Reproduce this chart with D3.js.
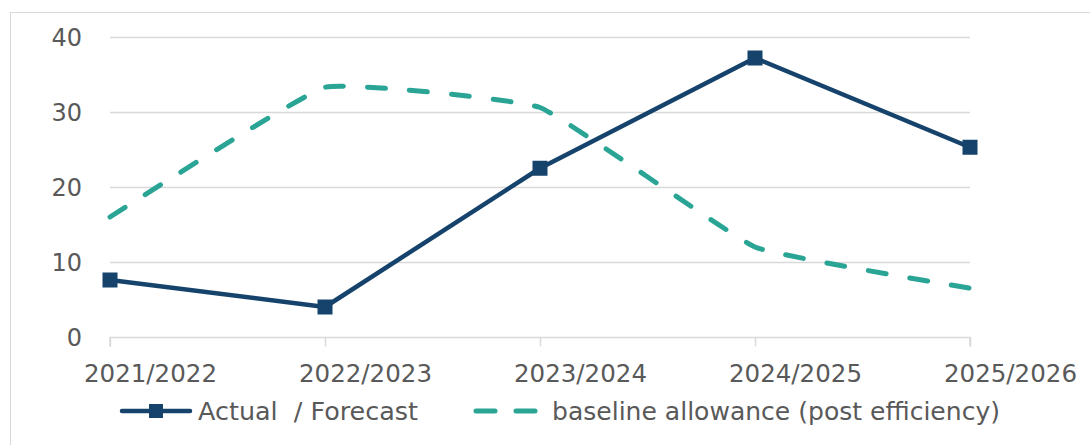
<!DOCTYPE html>
<html lang="en">
<head>
<meta charset="UTF-8">
<title>Actual vs baseline</title>
<script src="https://d3js.org/d3.v7.min.js"></script>
<style>
    body { margin: 0; background: #ffffff; }
    text { font-family: "DejaVu Sans", sans-serif; fill: #595959; white-space: pre; }
</style>
</head>
<body>
<svg id="chart" width="1090" height="445"></svg>
<script>
    // data
    const years = ["2021/2022", "2022/2023", "2023/2024", "2024/2025", "2025/2026"];
    const actual = [7.6, 4.0, 22.5, 37.2, 25.3];
    const baseline = [16.0, 33.3, 30.6, 12.0, 6.5];
    const yTicks = [0, 10, 20, 30, 40];
    const seriesNames = ["Actual  / Forecast", "baseline allowance (post efficiency)"];

    const navy = "#16436c";
    const teal = "#2aa595";
    const grid = "#d9d9d9";

    const svg = d3.select("#chart");

    // outer frame
    svg.append("rect")
        .attr("x", 10.5).attr("y", 12.5)
        .attr("width", 1100).attr("height", 450)
        .attr("fill", "none").attr("stroke", grid).attr("stroke-width", 1);

    const x = d3.scalePoint().domain(years).range([110, 970]);
    const y = d3.scaleLinear().domain([0, 40]).range([337, 37]);

    // gridlines
    svg.append("g").selectAll("line")
        .data(yTicks.filter(d => d > 0))
        .enter().append("line")
        .attr("x1", 110).attr("x2", 970)
        .attr("y1", d => Math.round(y(d)) + 0.5).attr("y2", d => Math.round(y(d)) + 0.5)
        .attr("stroke", grid).attr("stroke-width", 1.5);

    // x axis
    const xAxis = svg.append("g")
        .attr("transform", `translate(0,${Math.round(y(0)) + 0.5})`)
        .call(d3.axisBottom(x).tickSize(9).tickPadding(18));
    xAxis.select(".domain").attr("stroke", grid).attr("stroke-width", 1.5)
        .attr("d", "M110,9V0H970V9");
    xAxis.selectAll(".tick line").attr("stroke", grid).attr("stroke-width", 1.5);
    xAxis.selectAll(".tick text")
        .attr("x", 40)
        .attr("font-size", 24).attr("font-family", null).attr("fill", "#595959")
        .attr("textLength", 133).attr("lengthAdjust", "spacingAndGlyphs");

    // y axis labels
    svg.append("g").selectAll("text")
        .data(yTicks)
        .enter().append("text")
        .attr("x", 82)
        .attr("y", d => y(d) + 9)
        .attr("text-anchor", "end")
        .attr("font-size", 24)
        .text(d => d);

    // baseline (lightly smoothed, dashed)
    const baseLine = d3.line()
        .x((d, i) => x(years[i]))
        .y(d => y(d))
        .curve(d3.curveCardinal.tension(0.7));

    svg.append("path")
        .datum(baseline)
        .attr("d", baseLine)
        .attr("fill", "none")
        .attr("stroke", teal)
        .attr("stroke-width", 5)
        .attr("stroke-linecap", "round")
        .attr("stroke-dasharray", "18,24");

    // actual / forecast
    const actLine = d3.line()
        .x((d, i) => x(years[i]))
        .y(d => y(d));

    svg.append("path")
        .datum(actual)
        .attr("d", actLine)
        .attr("fill", "none")
        .attr("stroke", navy)
        .attr("stroke-width", 4.5)
        .attr("stroke-linejoin", "round");

    svg.append("g").selectAll("rect")
        .data(actual)
        .enter().append("rect")
        .attr("x", (d, i) => x(years[i]) - 7.5)
        .attr("y", d => y(d) - 7.5)
        .attr("width", 15).attr("height", 15)
        .attr("fill", navy);

    // legend
    const lg = svg.append("g");
    lg.append("line")
        .attr("x1", 122).attr("x2", 190).attr("y1", 411).attr("y2", 411)
        .attr("stroke", navy).attr("stroke-width", 4.5).attr("stroke-linecap", "round");
    lg.append("rect")
        .attr("x", 149).attr("y", 404).attr("width", 14).attr("height", 14)
        .attr("fill", navy);
    lg.append("text")
        .attr("x", 198).attr("y", 420)
        .attr("font-size", 24)
        .attr("textLength", 220)
        .attr("lengthAdjust", "spacingAndGlyphs")
        .text(seriesNames[0]);

    lg.append("line")
        .attr("x1", 476).attr("x2", 535).attr("y1", 411).attr("y2", 411)
        .attr("stroke", teal).attr("stroke-width", 5).attr("stroke-linecap", "round")
        .attr("stroke-dasharray", "19,21");
    lg.append("text")
        .attr("x", 552).attr("y", 420)
        .attr("font-size", 24)
        .attr("textLength", 448)
        .attr("lengthAdjust", "spacingAndGlyphs")
        .text(seriesNames[1]);
</script>
</body>
</html>
